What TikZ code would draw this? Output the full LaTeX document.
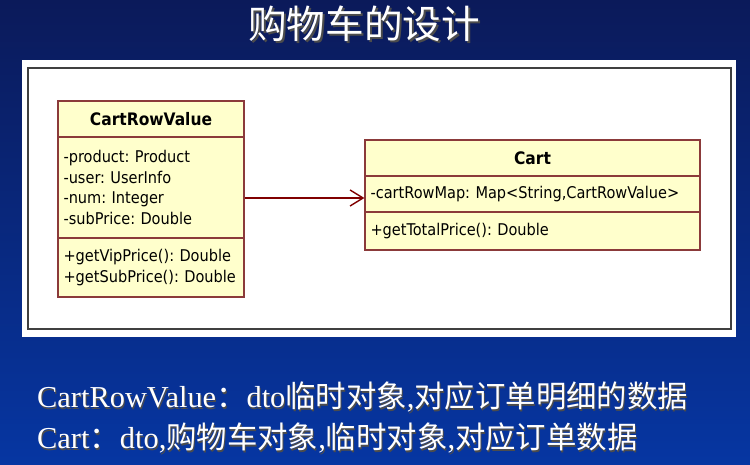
\documentclass[tikz,border=0pt]{standalone}
\usepackage{fontspec}
\setmainfont{Liberation Serif}
\setsansfont{DejaVu Sans Condensed}
\newfontfamily\cjk{Noto Sans CJK SC}
\usepackage{tikz}
\usetikzlibrary{positioning,arrows.meta}
\frenchspacing

\definecolor{bgtop}{HTML}{0B1A5A}
\definecolor{bgbottom}{HTML}{0636A2}
\definecolor{umlline}{HTML}{8B3A3A}
\definecolor{umlfill}{HTML}{FFFFCC}
\definecolor{arrowred}{HTML}{800000}

\tikzset{
  compart/.style={rectangle,draw=umlline,fill=umlfill,line width=0.7pt,inner xsep=0.11cm,
    font=\sffamily\fontsize{9.2pt}{11.6pt}\selectfont},
  headpart/.style={compart,font=\sffamily\bfseries\fontsize{9.8pt}{11pt}\selectfont},
  listpart/.style={compart,align=left},
  slidetext/.style={text=white,anchor=west,font=\fontsize{17.3pt}{20pt}\selectfont},
  shadowtext/.style={slidetext,text=black!70}
}

\begin{document}
\begin{tikzpicture}[x=0.02cm, y=-0.02cm]

% Background
\shade[top color=bgtop, bottom color=bgbottom] (0,0) rectangle (750,465);
\useasboundingbox (0,0) rectangle (750,465);

% Title
\node[text=black!70,font=\cjk\fontsize{22pt}{24pt}\selectfont] at (366,26) (titleshadow) {购物车的设计};
\node[text=white,font=\cjk\fontsize{22pt}{24pt}\selectfont] at (364,24) (title) {购物车的设计};

% Diagram panel
\fill[white] (22,60) rectangle (736,337);
\draw[black!75,line width=1pt] (28,68) rectangle (731,329);

% CartRowValue
\node[headpart,minimum width=3.72cm,minimum height=0.72cm] at (151,119) (crvHead) {CartRowValue};
\node[listpart,text width=3.5cm,minimum height=2.02cm] at (151,187.5) (crvAttr)
  {-product: Product\\-user: UserInfo\\-num: Integer\\-subPrice: Double};
\node[listpart,text width=3.5cm,minimum height=1.18cm] at (151,267.5) (crvOps)
  {+getVipPrice(): Double\\+getSubPrice(): Double};

% Cart
\node[headpart,minimum width=6.7cm,minimum height=0.72cm] at (532.5,158) (cartHead) {Cart};
\node[listpart,text width=6.48cm,minimum height=0.72cm] at (532.5,194) (cartAttr)
  {-cartRowMap: Map<String,CartRowValue>};
\node[listpart,text width=6.48cm,minimum height=0.76cm] at (532.5,231) (cartOps)
  {+getTotalPrice(): Double};

% Association
\draw[arrowred,line width=0.8pt,-{Straight Barb[length=2.6mm,width=3.2mm]}]
  ([yshift=-0.08cm]crvAttr.east |- cartAttr.west) -- ([yshift=-0.08cm]cartAttr.west);

% Notes
\node[shadowtext] at (32,399) (note1s) {CartRowValue{\cjk ：}dto{\cjk 临时对象},{\cjk 对应订单明细的数据}};
\node[slidetext] at (31,397) (note1) {CartRowValue{\cjk ：}dto{\cjk 临时对象},{\cjk 对应订单明细的数据}};
\node[shadowtext] at (32,440) (note2s) {Cart{\cjk ：}dto,{\cjk 购物车对象},{\cjk 临时对象},{\cjk 对应订单数据}};
\node[slidetext] at (31,438) (note2) {Cart{\cjk ：}dto,{\cjk 购物车对象},{\cjk 临时对象},{\cjk 对应订单数据}};

\end{tikzpicture}
\end{document}
